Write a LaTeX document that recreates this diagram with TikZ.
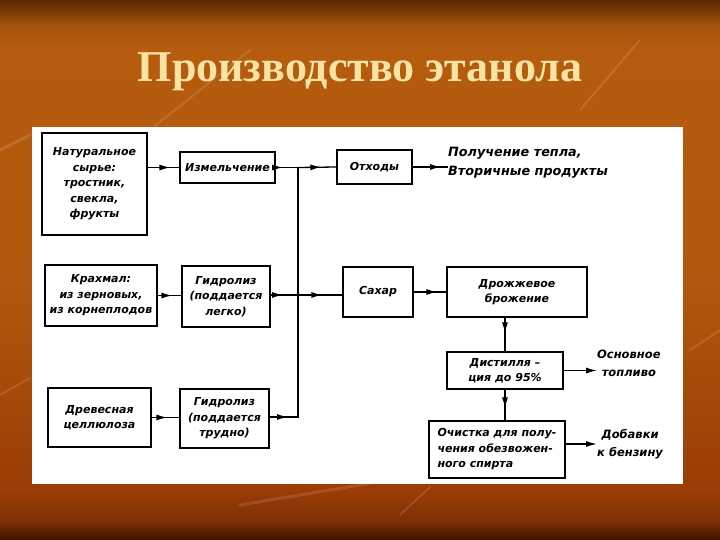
\documentclass[tikz,border=0pt]{standalone}
\usepackage{fontspec}
\usepackage{tikz}
\usetikzlibrary{arrows.meta,decorations.markings}
\setmainfont{Liberation Serif}
\newfontfamily\gostfont{DejaVu Sans}
\definecolor{titlecream}{HTML}{F7E3A3}
\definecolor{bgtop}{HTML}{5C2800}
\definecolor{bgmid}{HTML}{B65C0E}
\definecolor{bglow}{HTML}{9C3C06}
\definecolor{bgfoot}{HTML}{3A1400}
% 25bp = onderkant, 75bp = bovenkant van het blad
\pgfdeclareverticalshading{slidebg}{100bp}{color(0bp)=(bgfoot); color(25bp)=(bgfoot); color(26.7bp)=(bglow!80!black); color(29.6bp)=(bglow); color(49bp)=(bgmid!85!bglow); color(70.4bp)=(bgmid); color(72.7bp)=(bgmid!80!bgtop); color(75bp)=(bgtop); color(100bp)=(bgtop)}

\tikzset{
  blok/.style={draw, line width=1.3pt, align=center, inner sep=2pt,
    font=\gostfont\bfseries\itshape\fontsize{11}{15.5}\selectfont},
  uitleg/.style={align=center, inner sep=0pt,
    font=\gostfont\bfseries\itshape\fontsize{11.5}{18}\selectfont},
  flow/.style={line width=1.3pt,
    decoration={markings, mark=at position -#1 with {\arrow{Latex[length=11pt,width=6pt]}}},
    postaction={decorate}},
  flow/.default=9pt,
  uitgang/.style={line width=1.3pt, -{Latex[length=11pt,width=6pt]}},
  streep/.style={white, opacity=0.12, line width=#1, line cap=round}
}

\begin{document}
\begin{tikzpicture}[x=1pt,y=-1pt]
% achtergrond
\useasboundingbox (0,0) rectangle (720,540);
\shade[shading=slidebg] (0,0) rectangle (720,540);
\draw[streep=3pt] (0,150) -- (30,135);
\draw[streep=2pt] (0,395) -- (30,378);
\draw[streep=2pt] (150,130) -- (250,50);
\draw[streep=3pt] (240,505) -- (420,475);
\draw[streep=2pt] (400,515) -- (430,487);
\draw[streep=2pt] (690,350) -- (720,330);
\draw[streep=2pt] (580,110) -- (640,40);
\fill[white] (32,127) rectangle (683,484);
\node[font=\fontsize{44}{50}\selectfont\bfseries, text=titlecream] (title) at (360,72) {Производство этанола};

% blokken
\node[blok, minimum width=105, minimum height=102] (raw) at (94.5,184) {Натуральное\\сырье:\\тростник,\\свекла,\\фрукты};
\node[blok, minimum width=95, minimum height=31] (grind) at (227.5,167.5) {Измельчение};
\node[blok, minimum width=75, minimum height=34] (waste) at (374.5,167) {Отходы};
\node[uitleg, align=left, anchor=west, font=\gostfont\bfseries\itshape\fontsize{12.8}{19}\selectfont] (heat) at (448,163) {Получение тепла,\\Вторичные продукты};

\node[blok, minimum width=112, minimum height=61] (starch) at (101,295.5) {Крахмал:\\из зерновых,\\из корнеплодов};
\node[blok, minimum width=88, minimum height=61] (hydroA) at (226,296.5) {Гидролиз\\(поддается\\легко)};
\node[blok, minimum width=70, minimum height=50] (sugar) at (378,292) {Сахар};
\node[blok, minimum width=140, minimum height=50] (ferment) at (517,292) {Дрожжевое\\брожение};
\node[blok, minimum width=116, minimum height=37] (distil) at (505,370.5) {Дистилля –\\ция до 95\%};
\node[uitleg, anchor=west] (fuel) at (597,363) {Основное\\топливо};
\node[blok, align=left, minimum width=136, minimum height=57] (purify) at (497,449.5) {Очистка для полу-\\чения обезвожен-\\ного спирта};
\node[uitleg, anchor=west] (additive) at (597,444) {Добавки\\к бензину};

\node[blok, minimum width=103, minimum height=59] (wood) at (99.5,417.5) {Древесная\\целлюлоза};
\node[blok, minimum width=89, minimum height=59] (hydroB) at (224.5,418.5) {Гидролиз\\(поддается\\трудно)};

\coordinate (j1) at (298,167.5);
\coordinate (j2) at (298,295);
\coordinate (j3) at (298,417);

% pijlen
\draw[flow] (raw.east |- grind.west) -- (grind.west);
\draw[flow=15pt] (grind.east) -- (j1);
\draw[flow=15pt] (j1) -- (waste.west);
\draw[flow=7pt] (waste.east) -- (waste.east -| heat.west);
\draw[flow] (starch.east) -- (starch.east -| hydroA.west);
\draw[flow=15pt] (hydroA.east |- j2) -- (j2);
\draw[flow=20pt] (j2) -- (j2 -| sugar.west);
\draw[flow] (sugar.east) -- (ferment.west);
\draw[flow=18pt] (ferment.south -| distil.north) -- (distil.north);
\draw[uitgang] (distil.east) -- (distil.east -| fuel.west);
\draw[flow=12pt] (distil.south) -- (distil.south |- purify.north);
\draw[uitgang] (purify.east |- additive) -- (additive.west);
\draw[flow=12pt] (wood.east) -- (wood.east -| hydroB.west);
\draw[flow=10pt] (hydroB.east |- j3) -- (j3);
\draw[line width=1.3pt, line cap=rect] (j3) -- (j1);
\end{tikzpicture}
\end{document}
